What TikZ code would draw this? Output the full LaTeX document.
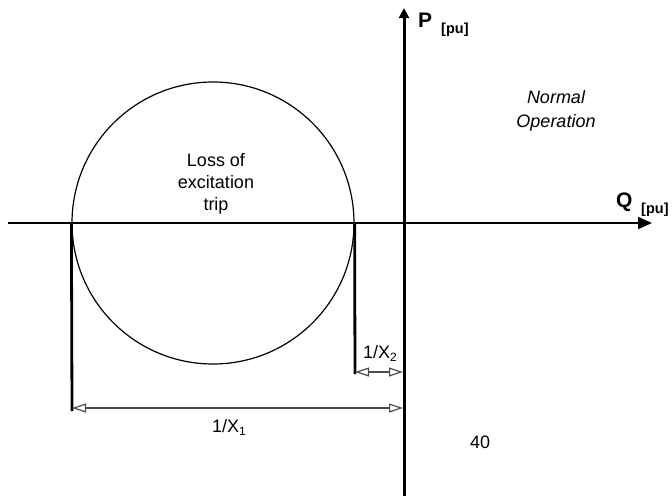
\documentclass[tikz,border=0pt]{standalone}
\usepackage{fontspec}
\setmainfont{Liberation Sans}
\usetikzlibrary{arrows.meta}
\begin{document}
\begin{tikzpicture}[x=1pt,y=-1pt,
  axisline/.style={line width=2pt,-{Triangle[length=14pt,width=12pt]}},
  vaxisline/.style={line width=3pt,-{Triangle[length=10pt,width=10pt]}},
  dimline/.style={line width=1.2pt,draw=black!70,
    {Triangle[open,length=14pt,width=9pt,line width=1.2pt]}-{Triangle[open,length=14pt,width=9pt,line width=1.2pt]}},
  extline/.style={line width=2.8pt},
  lbl/.style={font=\fontsize{18}{22}\selectfont,inner sep=0pt},
  axlbl/.style={font=\fontsize{21}{21}\selectfont\bfseries,inner sep=0pt,anchor=base west},
  unitlbl/.style={font=\fontsize{14.5}{14.5}\selectfont\bfseries,inner sep=0pt,anchor=base west}]
\useasboundingbox (0,0) rectangle (672,498);
% axes
\coordinate (hl) at (8,223);
\coordinate (hr) at (652,223);
\coordinate (vb) at (404,496);
\coordinate (vt) at (404,8);
\draw[axisline] (hl) -- (hr);
\draw[vaxisline] (vb) -- (vt);
% circle
\node[circle,draw,line width=1.2pt,minimum size=282pt,inner sep=0pt] (c) at (213,223) {};
% extension lines
\coordinate (e1) at (72,411);
\coordinate (e2) at (355,374);
\draw[extline] (c.west) -- (e1);
\draw[extline] (c.east) -- (e2);
% dimension lines
\coordinate (x1a) at (72,408);
\coordinate (x1b) at (403,408);
\coordinate (x2a) at (355,372);
\coordinate (x2b) at (403,372);
\draw[dimline] (x1a) -- (x1b);
\draw[dimline] (x2a) -- (x2b);
% labels
\node[axlbl] (P) at (418,27) {P};
\node[unitlbl] (Pu) at (441,33) {[pu]};
\node[axlbl] (Q) at (616,207) {Q};
\node[unitlbl] (Qu) at (641,213) {[pu]};
\node[lbl,align=center,font=\fontsize{18}{24}\selectfont\itshape] (normal) at (556,110.5) {Normal\\Operation};
\node[lbl,align=center] (loss) at (216,183.5) {Loss of\\excitation\\trip};
\node[lbl,anchor=base west] (lx2) at (363,358) {1/X\raisebox{-3.5pt}{\fontsize{12}{12}\selectfont 2}};
\node[lbl,anchor=base west] (lx1) at (212,432) {1/X\raisebox{-3.5pt}{\fontsize{12}{12}\selectfont 1}};
\node[lbl,anchor=base west] (forty) at (470,448) {40};
\end{tikzpicture}
\end{document}
